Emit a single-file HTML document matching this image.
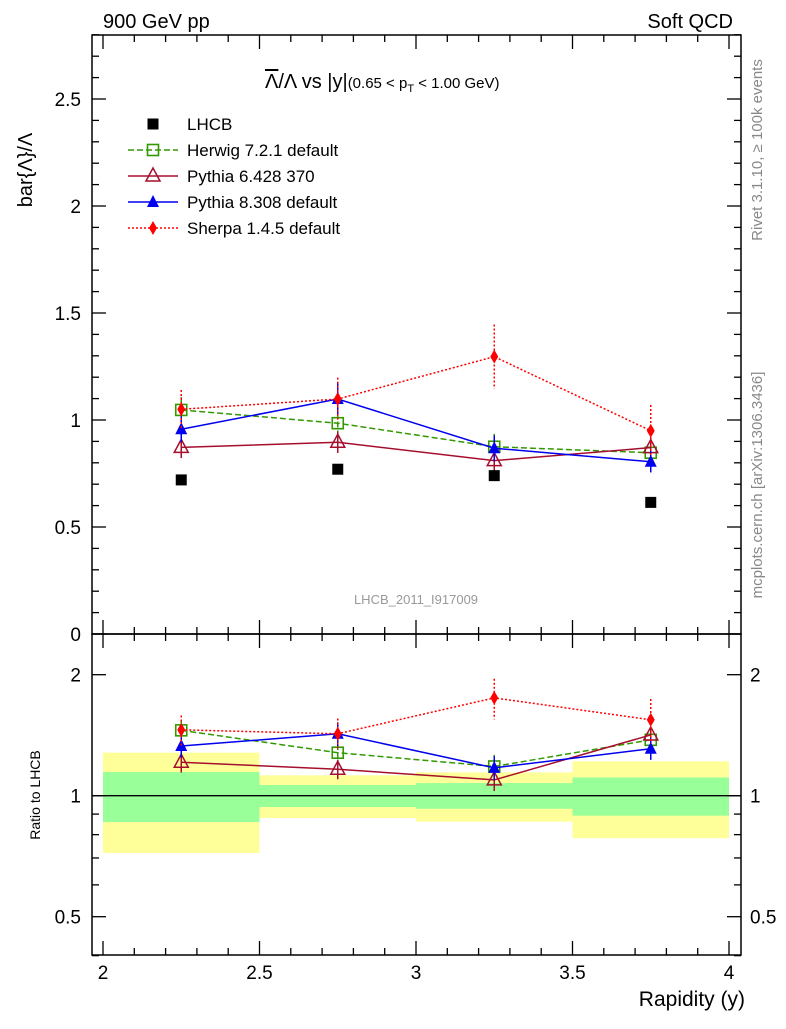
<!DOCTYPE html>
<html><head><meta charset="utf-8"><style>
body{margin:0;background:#fff}
svg text{font-family:"Liberation Sans","DejaVu Sans",sans-serif}
</style></head><body>
<svg id="c" width="786" height="1024" viewBox="0 0 786 1024" xmlns="http://www.w3.org/2000/svg">
<rect x="0" y="0" width="786" height="1024" fill="#fff"/>
<g id="bands"></g>
<g id="frames"></g>
<g id="series"></g>
<text x="103" y="28" font-size="20">900 GeV pp</text>
<text x="733" y="28" font-size="20" text-anchor="end">Soft QCD</text>
<text x="265" y="88" font-size="20"><tspan text-decoration="overline">Λ</tspan>/Λ vs |y|<tspan font-size="15">(0.65 &lt; p</tspan><tspan font-size="11" dy="4">T</tspan><tspan font-size="15" dy="-4"> &lt; 1.00 GeV)</tspan></text>
<text transform="translate(32,170) rotate(-90)" font-size="20" text-anchor="middle">bar{Λ}/Λ</text>
<text transform="translate(40,795) rotate(-90)" font-size="14" text-anchor="middle">Ratio to LHCB</text>
<text x="745" y="1006" font-size="21" text-anchor="end">Rapidity (y)</text>
<text x="416" y="604" font-size="13" fill="#999" text-anchor="middle">LHCB_2011_I917009</text>
<text transform="translate(762,150) rotate(-90)" font-size="15" fill="#888" text-anchor="middle">Rivet 3.1.10, ≥ 100k events</text>
<text transform="translate(762,485) rotate(-90)" font-size="15" fill="#888" text-anchor="middle">mcplots.cern.ch [arXiv:1306.3436]</text>
<g id="legend"></g>
</svg>
<script>
const xCenters=[2.25,2.75,3.25,3.75];
const xEdges=[2,2.5,3,3.5,4];
const lhcb=[0.72,0.77,0.74,0.615];
const herwig=[1.047,0.985,0.875,0.847];
const herwigErr=[0.06,0.05,0.06,0.05];
const py6=[0.872,0.896,0.81,0.871];
const py6Err=[0.05,0.05,0.05,0.04];
const py8=[0.957,1.098,0.868,0.805];
const py8Err=[0.06,0.075,0.06,0.05];
const sherpa=[1.05,1.098,1.296,0.95];
const sherpaErr=[0.09,0.1,0.15,0.12];
const bandYellowHi=[1.28,1.124,1.143,1.218];
const bandYellowLo=[0.72,0.88,0.862,0.784];
const bandGreenHi=[1.145,1.063,1.075,1.11];
const bandGreenLo=[0.86,0.937,0.928,0.892];
const mainTicks=["0","0.5","1","1.5","2","2.5"];
const ratioTicks=["0.5","1","2"];
const xTicks=["2","2.5","3","3.5","4"];

const NS="http://www.w3.org/2000/svg";
const L=92,R=741,T=35,M=634,B=955;
const X=v=>103+(v-2)*313;
const Y=v=>634-v*214;
const YR=v=>795.7-Math.log2(v)*121;
function mk(par,tag,at){const e=document.createElementNS(NS,tag);for(const k in at)e.setAttribute(k,at[k]);document.getElementById(par).appendChild(e);return e;}

for(let i=0;i<4;i++){
 const y=mk('bands','rect',{x:X(xEdges[i]),y:YR(bandYellowHi[i]),width:X(xEdges[i+1])-X(xEdges[i]),height:YR(bandYellowLo[i])-YR(bandYellowHi[i]),fill:'#ffff99'});
 
 
 const g=mk('bands','rect',{x:X(xEdges[i]),y:YR(bandGreenHi[i]),width:X(xEdges[i+1])-X(xEdges[i]),height:YR(bandGreenLo[i])-YR(bandGreenHi[i]),fill:'#99ff99'});
 
 
}
const f1=mk('frames','rect',{x:L,y:T,width:R-L,height:M-T,fill:'none',stroke:'#000','stroke-width':1.5});


const f2=mk('frames','rect',{x:L,y:M,width:R-L,height:B-M,fill:'none',stroke:'#000','stroke-width':1.5});


const one=mk('frames','line',{x1:L,x2:R,y1:YR(1),y2:YR(1),stroke:'#000','stroke-width':1.3});


for(let v=0;v<=2.8001;v+=0.1){const big=Math.abs(v*2-Math.round(v*2))<1e-6;const len=big?14:7;
 mk('frames','line',{x1:L,x2:L+len,y1:Y(v),y2:Y(v),stroke:'#000','stroke-width':1.3});
 mk('frames','line',{x1:R,x2:R-len,y1:Y(v),y2:Y(v),stroke:'#000','stroke-width':1.3});}
mainTicks.forEach(t=>{const e=mk('frames','text',{x:81,y:Y(+t)+7,'font-size':19,'text-anchor':'end'});e.textContent=t;
 
 });
[0.4,0.5,0.6,0.7,0.8,0.9,1,2].forEach(v=>{const big=(v==0.5||v==1||v==2);const len=big?14:7;
 mk('frames','line',{x1:L,x2:L+len,y1:YR(v),y2:YR(v),stroke:'#000','stroke-width':1.3});
 mk('frames','line',{x1:R,x2:R-len,y1:YR(v),y2:YR(v),stroke:'#000','stroke-width':1.3});});
ratioTicks.forEach(t=>{const e=mk('frames','text',{x:81,y:YR(+t)+7,'font-size':19,'text-anchor':'end'});e.textContent=t;
 
 
 const e2=mk('frames','text',{x:750,y:YR(+t)+7,'font-size':19});e2.textContent=t;
 
 });
for(let k=0;k<=20;k++){const v=2+k*0.1;const big=k%5==0;const len=big?14:7;
 [M,B].forEach(yb=>mk('frames','line',{x1:X(v),x2:X(v),y1:yb,y2:yb-len,stroke:'#000','stroke-width':1.3}));
 [T,M].forEach(yt=>mk('frames','line',{x1:X(v),x2:X(v),y1:yt,y2:yt+len,stroke:'#000','stroke-width':1.3}));}
xTicks.forEach(t=>{const e=mk('frames','text',{x:X(+t),y:979,'font-size':19,'text-anchor':'middle'});e.textContent=t;
 
 });

function marker(par,kind,x,y,col){
 let e;
 if(kind=='sqf')e=mk(par,'rect',{x:x-5.5,y:y-5.5,width:11,height:11,fill:col});
 else if(kind=='sqo')e=mk(par,'rect',{x:x-5.5,y:y-5.5,width:11,height:11,fill:'#fff','fill-opacity':0,stroke:col,'stroke-width':1.6});
 else if(kind=='tro')e=mk(par,'path',{d:`M${x},${y-8}L${x+7},${y+5}L${x-7},${y+5}Z`,fill:'none',stroke:col,'stroke-width':1.5});
 else if(kind=='trf')e=mk(par,'path',{d:`M${x},${y-7}L${x+6},${y+5}L${x-6},${y+5}Z`,fill:col});
 else e=mk(par,'path',{d:`M${x},${y-7}L${x+4},${y}L${x},${y+7}L${x-4},${y}Z`,fill:col});
 return e;
}
const series=[
 {name:'herwig',vals:herwig,err:herwigErr,col:'#339900',kind:'sqo',dash:'6,3'},
 {name:'pythia6',vals:py6,err:py6Err,col:'#a50f2d',kind:'tro',dash:''},
 {name:'pythia8',vals:py8,err:py8Err,col:'#0000ee',kind:'trf',dash:''},
 {name:'sherpa',vals:sherpa,err:sherpaErr,col:'#ff0000',kind:'dia',dash:'2,2'}];
series.forEach(s=>{
 [[Y,'main'],[YR,'ratio']].forEach(([yf,pn])=>{
  const val=i=>pn=='main'?s.vals[i]:s.vals[i]/lhcb[i];
  const er=i=>pn=='main'?s.err[i]:s.err[i]/lhcb[i];
  const pts=xCenters.map((x,i)=>X(x)+','+yf(val(i))).join(' ');
  const pl=mk('series','polyline',{points:pts,fill:'none',stroke:s.col,'stroke-width':1.5,'stroke-dasharray':s.dash});
  
  
  xCenters.forEach((x,i)=>{
   const eb=mk('series','line',{x1:X(x),x2:X(x),y1:yf(val(i)+er(i)),y2:yf(Math.max(val(i)-er(i),0.05)),stroke:s.col,'stroke-width':1.5,'stroke-dasharray':s.dash});
   
   
   const m=marker('series',s.kind,X(x),yf(val(i)),s.col);
   
   
  });
 });
});
xCenters.forEach((x,i)=>{const m=marker('series','sqf',X(x),Y(lhcb[i]),'#000');
 
 });
const leg=[['LHCB','sqf','#000',''],['Herwig 7.2.1 default','sqo','#339900','6,3'],['Pythia 6.428 370','tro','#a50f2d',''],['Pythia 8.308 default','trf','#0000ee',''],['Sherpa 1.4.5 default','dia','#ff0000','2,2']];
leg.forEach((l,i)=>{const y=124+i*26;
 if(i>0){mk('legend','line',{x1:128,x2:178,y1:y,y2:y,stroke:l[2],'stroke-width':1.5,'stroke-dasharray':l[3]});}
 marker('legend',l[1],153,y,l[2]);
 const t=mk('legend','text',{x:187,y:y+6,'font-size':17});t.textContent=l[0];
 
 });
</script>
</body></html>
